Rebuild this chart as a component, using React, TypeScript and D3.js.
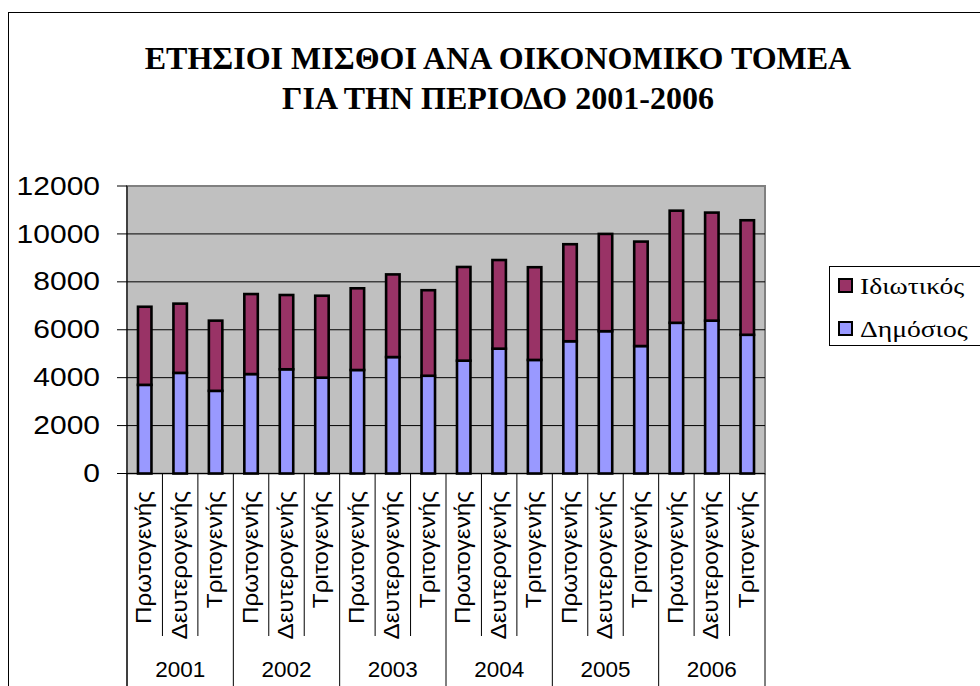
import React from "react";
import * as d3 from "d3";

const years = ["2001", "2002", "2003", "2004", "2005", "2006"];
const sectors = ["Πρωτογενής", "Δευτερογενής", "Τριτογενής"];
const publicValues = [3700, 4200, 3450, 4150, 4350, 4000, 4320, 4860, 4080, 4710, 5210, 4740, 5520, 5940, 5320, 6290, 6380, 5790];
const privateValues = [3260, 2890, 2930, 3340, 3100, 3420, 3410, 3450, 3570, 3910, 3700, 3870, 4050, 4060, 4360, 4680, 4510, 4780];
const yTicks = [0, 2000, 4000, 6000, 8000, 10000, 12000];
const seriesNames = ["Ιδιωτικός", "Δημόσιος"];
const titleLines = ["ΕΤΗΣΙΟΙ ΜΙΣΘΟΙ ΑΝΑ ΟΙΚΟΝΟΜΙΚΟ ΤΟΜΕΑ", "ΓΙΑ ΤΗΝ ΠΕΡΙΟΔΟ 2001-2006"];

const colors = { public: "#9999FF", private: "#993366" };

export default function App() {
  const left = 127, right = 765, top = 186, bottom = 473.5;
  const cats = years.flatMap((y) => sectors.map((s) => `${y}|${s}`));
  const x = d3.scaleBand().domain(cats).range([left, right]).paddingInner(0.62).paddingOuter(0.31);
  const y = d3.scaleLinear().domain([0, 12000]).range([bottom, top]);
  const step = (right - left) / cats.length;
  const stacked = d3.stack<any>().keys(["pub", "priv"])(
    cats.map((c, i) => ({ cat: c, pub: publicValues[i], priv: privateValues[i] }))
  );
  const fills = [colors.public, colors.private];
  const sans = "'Liberation Sans', Arial, sans-serif";
  const serif = "'Liberation Serif', 'Times New Roman', serif";

  return (
    <svg width={980} height={686} style={{ position: "absolute", left: 0, top: 0, background: "#fff" }}>
      <rect x={8.5} y={12.5} width={990} height={700} fill="#fff" stroke="#000" strokeWidth={1} />
      {titleLines.map((t, i) => (
        <text key={i} x={498} y={69 + i * 40} textAnchor="middle" fontFamily={serif} fontWeight="bold" fontSize={32}>
          {t}
        </text>
      ))}
      <rect x={left} y={top} width={right - left} height={bottom - top} fill="#C0C0C0" stroke="#808080" strokeWidth={2} />
      {yTicks.filter((v) => v > 0 && v < 12000).map((v) => (
        <line key={v} x1={left} x2={right} y1={y(v)} y2={y(v)} stroke="#000" strokeWidth={1} />
      ))}
      {stacked.map((s, si) =>
        s.map((d, i) => (
          <rect
            key={`${si}-${i}`}
            x={x(cats[i])}
            y={y(d[1])}
            width={x.bandwidth()}
            height={y(d[0]) - y(d[1])}
            fill={fills[si]}
            stroke="#000"
            strokeWidth={2.6}
          />
        ))
      )}
      {/* y axis */}
      <line x1={left} x2={left} y1={top} y2={686} stroke="#000" strokeWidth={1} />
      {yTicks.map((v) => (
        <g key={v}>
          <line x1={117} x2={left} y1={y(v)} y2={y(v)} stroke="#000" strokeWidth={1} />
          <text
            x={100}
            y={y(v)}
            textAnchor="end"
            dominantBaseline="central"
            fontFamily={sans}
            fontSize={25}
            transform={`translate(100,0) scale(1.2,1) translate(-100,0)`}
          >
            {v}
          </text>
        </g>
      ))}
      {/* x axis */}
      <line x1={117} x2={right} y1={bottom} y2={bottom} stroke="#000" strokeWidth={1} />
      {cats.map((c, i) => {
        const xl = left + i * step;
        const isGroup = i % 3 === 0;
        return <line key={c} x1={xl} x2={xl} y1={bottom} y2={isGroup ? 686 : 636} stroke="#000" strokeWidth={1} />;
      })}
      <line x1={right} x2={right} y1={bottom} y2={686} stroke="#000" strokeWidth={1} />
      {cats.map((c, i) => {
        const cx = (x(c) as number) + x.bandwidth() / 2 + 6.5;
        const cy = 491;
        return (
          <text key={c} x={0} y={0} transform={`translate(${cx},${cy}) rotate(-90) scale(1.13,1)`} textAnchor="end" fontFamily={sans} fontSize={21.5}>
            {c.split("|")[1]}
          </text>
        );
      })}
      {years.map((yr, gi) => (
        <text key={yr} x={left + (gi * 3 + 1.5) * step} y={677} textAnchor="middle" fontFamily={sans} fontSize={22.5}>
          {yr}
        </text>
      ))}
      {/* legend */}
      <rect x={829.5} y={266.5} width={200} height={79} fill="#fff" stroke="#000" strokeWidth={1} />
      {seriesNames.map((n, i) => (
        <g key={n}>
          <rect x={839} y={279 + i * 43} width={13} height={13} fill={i === 0 ? colors.private : colors.public} stroke="#000" strokeWidth={2} />
          <text x={0} y={0} transform={`translate(860,${294 + i * 43}) scale(1.2,1)`} fontFamily={serif} fontSize={23}>
            {n}
          </text>
        </g>
      ))}
    </svg>
  );
}
